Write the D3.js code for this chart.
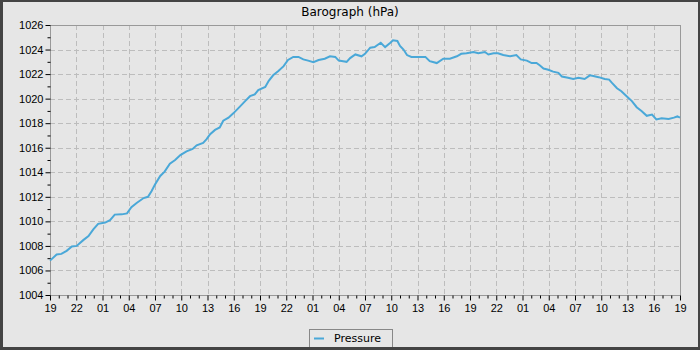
<!DOCTYPE html>
<html>
<head>
<meta charset="utf-8">
<script src="https://cdn.jsdelivr.net/npm/d3@7"></script>
<style>
  html, body { margin: 0; padding: 0; background: #444; }
  svg { display: block; font-family: "DejaVu Sans", sans-serif; }
</style>
</head>
<body>
<div id="chart"></div>
<script>
// hours since 19:00 on the first day, and pressure readings (hPa)
var hours = [0, 0.76, 1.3, 1.9, 2.5, 3.05, 3.8, 4.4, 4.95, 5.5, 6.3, 6.86, 7.4, 8.2, 8.8, 9.3, 9.9, 10.7, 11.2, 11.6,
  12.0, 12.6, 13.1, 13.7, 14.3, 14.9, 15.6, 16.3, 16.76, 17.5, 17.9, 18.3, 18.86, 19.4, 19.8, 20.4, 20.95, 21.7, 22.3, 22.86,
  23.4, 23.8, 24.6, 25.0, 25.5, 26.1, 26.7, 27.2, 27.8, 28.4, 28.95, 29.5, 30.1, 30.7, 31.4, 32.0, 32.6, 33.0, 33.5, 33.9,
  34.3, 34.9, 35.6, 36.0, 36.6, 37.1, 37.8, 38.3, 38.9, 39.2, 39.7, 40.0, 40.4, 40.8, 41.3, 42.1, 42.9, 43.4, 44.2, 44.95,
  45.7, 46.5, 47.0, 47.6, 48.4, 48.95, 49.7, 50.1, 50.7, 51.2, 51.8, 52.6, 53.3, 53.8, 54.5, 55.05, 55.6, 56.0, 56.4, 56.95,
  57.5, 58.1, 58.5, 59.2, 59.8, 60.4, 61.1, 61.7, 62.1, 62.7, 63.4, 63.9, 64.2, 64.8, 65.3, 65.9, 66.5, 67.05, 67.6, 68.2,
  68.8, 69.3, 69.9, 70.7, 71.3, 71.7, 72.0];
var pressure = [1006.8, 1007.3, 1007.35, 1007.6, 1007.95, 1008.0, 1008.47, 1008.8, 1009.35, 1009.8, 1009.9, 1010.1, 1010.55, 1010.57, 1010.65, 1011.15, 1011.5, 1011.9, 1012.0, 1012.45,
  1013.0, 1013.7, 1014.05, 1014.7, 1015.0, 1015.4, 1015.7, 1015.9, 1016.2, 1016.4, 1016.7, 1017.1, 1017.45, 1017.65, 1018.2, 1018.45, 1018.8, 1019.35, 1019.8, 1020.2,
  1020.35, 1020.7, 1020.95, 1021.45, 1021.9, 1022.25, 1022.65, 1023.15, 1023.4, 1023.4, 1023.2, 1023.1, 1022.97, 1023.15, 1023.25, 1023.45, 1023.4, 1023.1, 1023.05, 1023.0,
  1023.3, 1023.6, 1023.45, 1023.65, 1024.15, 1024.2, 1024.55, 1024.2, 1024.55, 1024.75, 1024.7, 1024.3, 1024.0, 1023.55, 1023.4, 1023.4, 1023.4, 1023.05, 1022.9, 1023.25,
  1023.25, 1023.45, 1023.65, 1023.7, 1023.8, 1023.7, 1023.8, 1023.6, 1023.7, 1023.7, 1023.55, 1023.45, 1023.55, 1023.2, 1023.1, 1022.9, 1022.9, 1022.7, 1022.45, 1022.35,
  1022.2, 1022.1, 1021.8, 1021.7, 1021.6, 1021.7, 1021.6, 1021.9, 1021.85, 1021.75, 1021.6, 1021.55, 1021.3, 1020.85, 1020.6, 1020.2, 1019.8, 1019.3, 1019.0, 1018.6,
  1018.7, 1018.3, 1018.4, 1018.35, 1018.45, 1018.55, 1018.45];

// x tick labels every 3 hours
var hourLabels = ["19", "22", "01", "04", "07", "10", "13", "16", "19", "22", "01", "04", "07", "10", "13", "16", "19",
  "22", "01", "04", "07", "10", "13", "16", "19"];
var yTicks = [1004, 1006, 1008, 1010, 1012, 1014, 1016, 1018, 1020, 1022, 1024, 1026];

var W = 700, H = 350;
var plotLeft = 50, plotRight = 680, plotTop = 25, plotBottom = 295;
var lineColor = "#4aa8d8";

var svg = d3.select("#chart").append("svg")
  .attr("width", W).attr("height", H);

// frame
svg.append("rect").attr("width", W).attr("height", H).attr("fill", "#444");
svg.append("rect").attr("x", 3).attr("y", 2).attr("width", W - 5).attr("height", H - 5).attr("fill", "#e6e6e6");

var x = d3.scaleLinear().domain([0, 72]).range([plotLeft, plotRight]);
var y = d3.scaleLinear().domain([1004, 1026]).range([plotBottom, plotTop]);

var majorX = d3.range(0, 73, 3);
var minorX = d3.range(0, 73, 1).filter(function(h) { return h % 3 !== 0; });
var minorY = d3.range(1005, 1026, 2);

// grid
var grid = svg.append("g").attr("stroke", "#bdbdbd").attr("stroke-dasharray", "5,3").attr("shape-rendering", "crispEdges");
grid.selectAll(".gx").data(majorX.slice(1, -1)).enter().append("line")
  .attr("x1", function(d) { return Math.round(x(d)) + 0.5; })
  .attr("x2", function(d) { return Math.round(x(d)) + 0.5; })
  .attr("y1", plotTop).attr("y2", plotBottom);
grid.selectAll(".gy").data(yTicks.slice(1, -1)).enter().append("line")
  .attr("y1", function(d) { return Math.round(y(d)) + 0.5; })
  .attr("y2", function(d) { return Math.round(y(d)) + 0.5; })
  .attr("x1", plotLeft).attr("x2", plotRight);

// plot border
svg.append("rect").attr("x", plotLeft + 0.5).attr("y", plotTop + 0.5)
  .attr("width", plotRight - plotLeft).attr("height", plotBottom - plotTop)
  .attr("fill", "none").attr("stroke", "#999").attr("shape-rendering", "crispEdges");

// x axis
var xAxis = d3.axisBottom(x)
  .tickValues(majorX)
  .tickSize(5)
  .tickFormat(function(d, i) { return hourLabels[i]; });
var gx = svg.append("g").attr("transform", "translate(0," + (plotBottom + 0.5) + ")").call(xAxis);
gx.select(".domain").remove();
gx.selectAll(".tick line").attr("stroke", "#000");
gx.selectAll("text").attr("font-size", 11).attr("fill", "#000").attr("dy", "0.71em").attr("y", 9);
var gxm = svg.append("g").attr("transform", "translate(0," + (plotBottom + 0.5) + ")")
  .call(d3.axisBottom(x).tickValues(minorX).tickSize(3).tickFormat(""));
gxm.select(".domain").remove();
gxm.selectAll(".tick line").attr("stroke", "#000");

// y axis
var yAxis = d3.axisLeft(y).tickValues(yTicks).tickSize(5).tickFormat(d3.format("d"));
var gy = svg.append("g").attr("transform", "translate(" + (plotLeft + 0.5) + ",0)").call(yAxis);
gy.select(".domain").remove();
gy.selectAll(".tick line").attr("stroke", "#000");
gy.selectAll("text").attr("font-size", 11).attr("fill", "#000").attr("x", -7);
var gym = svg.append("g").attr("transform", "translate(" + (plotLeft + 0.5) + ",0)")
  .call(d3.axisLeft(y).tickValues(minorY).tickSize(3).tickFormat(""));
gym.select(".domain").remove();
gym.selectAll(".tick line").attr("stroke", "#000");

// pressure line
var line = d3.line()
  .x(function(d) { return x(d[0]); })
  .y(function(d) { return y(d[1]); });
svg.append("path")
  .datum(d3.zip(hours, pressure))
  .attr("d", line)
  .attr("fill", "none")
  .attr("stroke", lineColor)
  .attr("stroke-width", 2)
  .attr("stroke-linejoin", "miter");

// title
svg.append("text").attr("x", 350).attr("y", 16).attr("text-anchor", "middle")
  .attr("font-size", 12).attr("fill", "#000").text("Barograph (hPa)");

// legend
var lg = svg.append("g");
lg.append("rect").attr("x", 309.5).attr("y", 329.5).attr("width", 83).attr("height", 22)
  .attr("fill", "#e6e6e6").attr("stroke", "#888");
lg.append("line").attr("x1", 314).attr("x2", 324).attr("y1", 338.5).attr("y2", 338.5)
  .attr("stroke", lineColor).attr("stroke-width", 2);
lg.append("text").attr("x", 334).attr("y", 342).attr("font-size", 11).attr("fill", "#000").text("Pressure");

// bottom frame edge over legend
svg.append("rect").attr("x", 0).attr("y", H - 3).attr("width", W).attr("height", 3).attr("fill", "#444");
</script>
</body>
</html>
